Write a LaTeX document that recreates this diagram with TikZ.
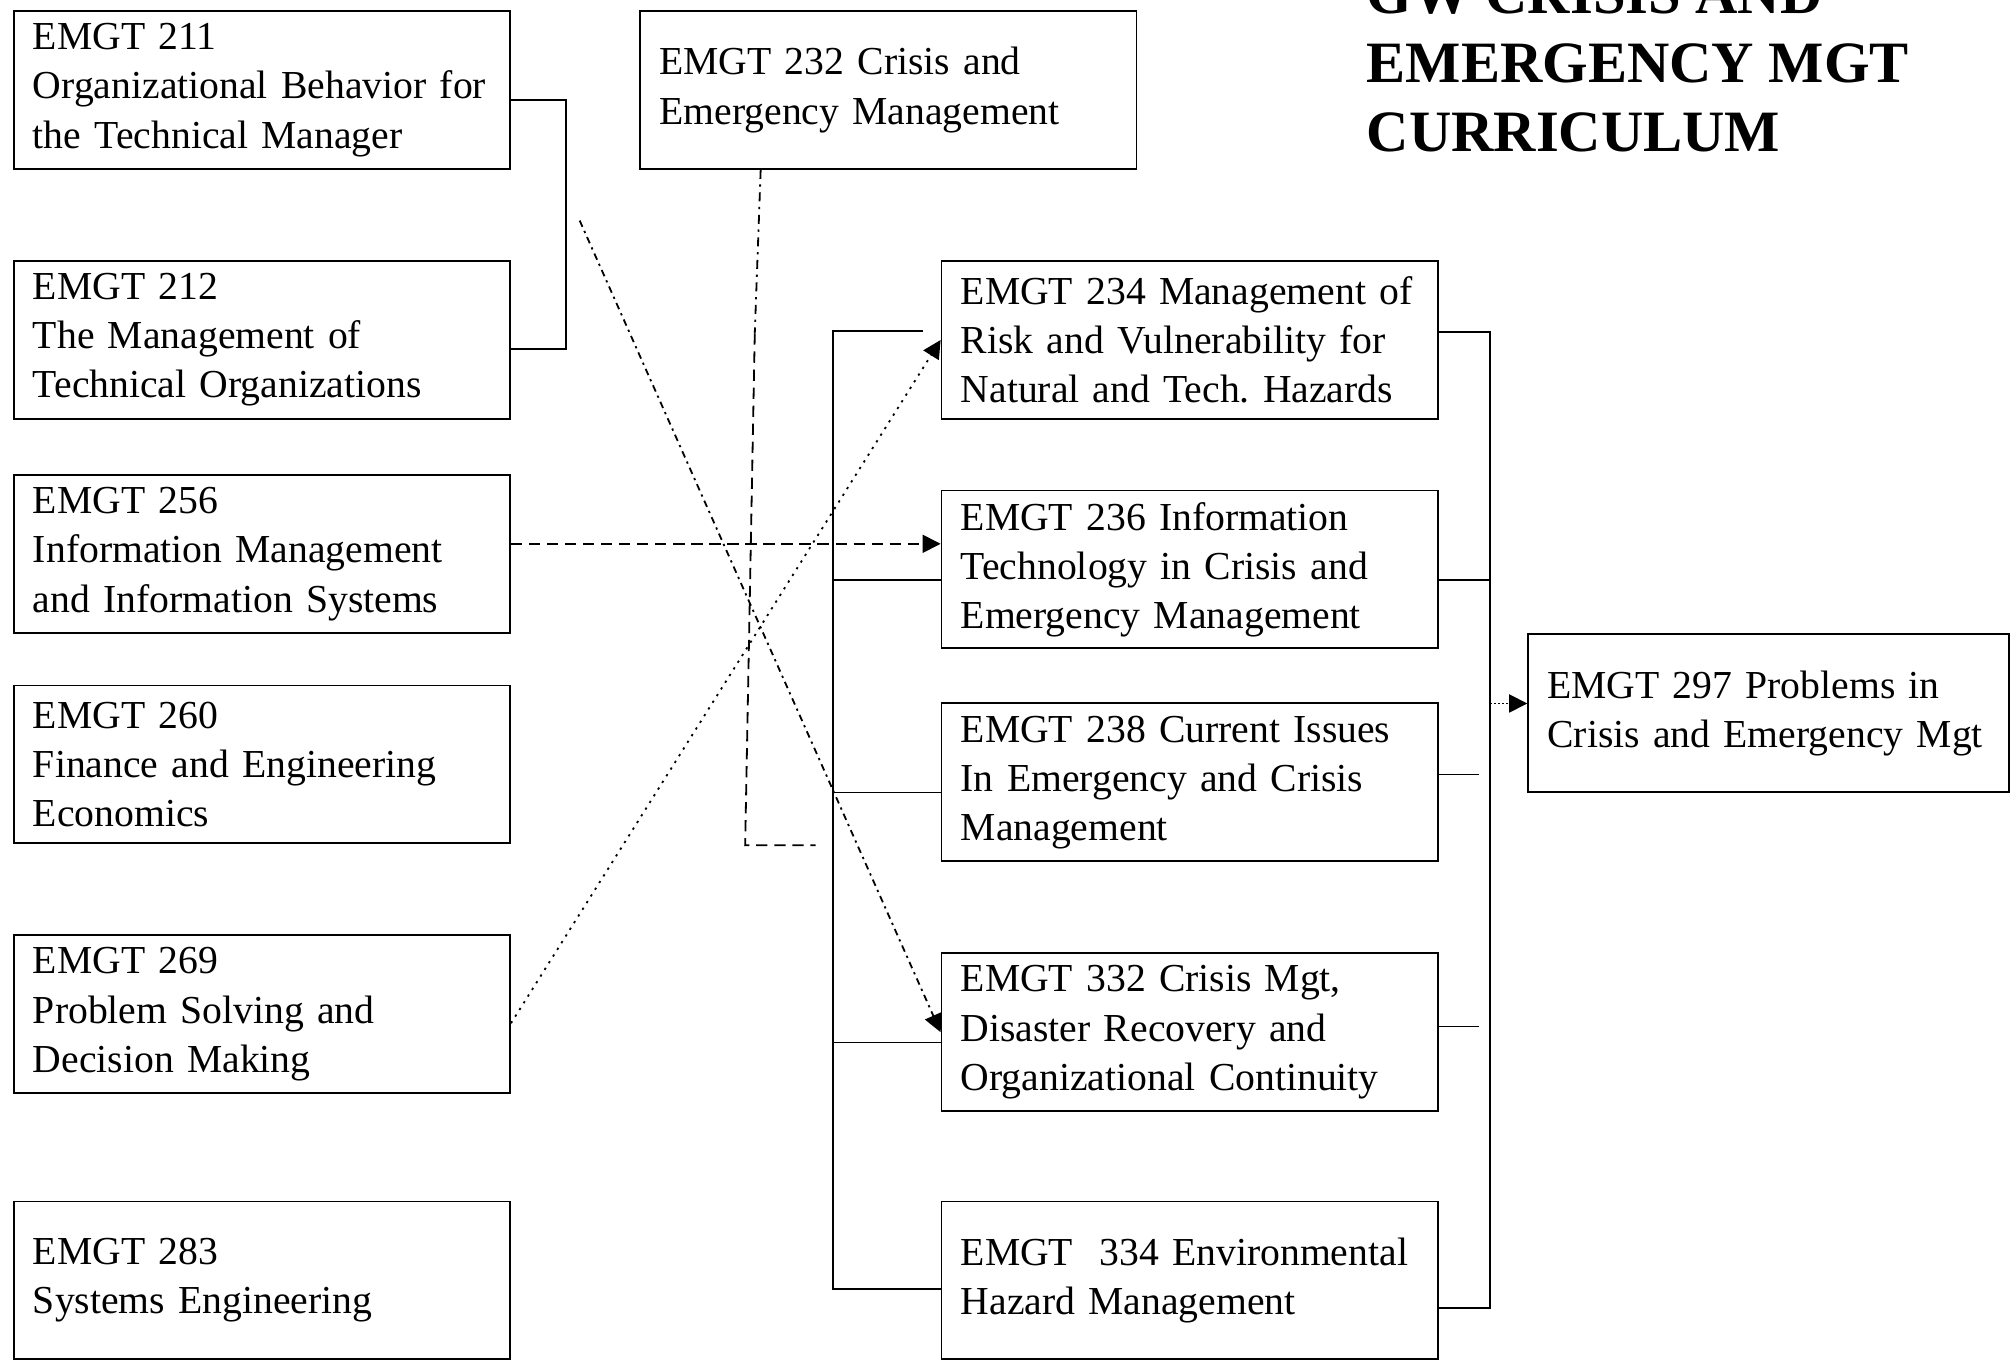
\documentclass[tikz,border=0pt]{standalone}
\usepackage{fontspec}
\setmainfont{Liberation Serif}
\usepackage{tikz}
\usetikzlibrary{arrows.meta, positioning, calc}

\begin{document}
\begin{tikzpicture}[
    line width=0.8pt,
    course/.style={rectangle, draw, text width=7.14cm, inner xsep=0.3cm,
                   minimum height=2.46cm, align=left,
                   font=\fontsize{17.6}{21.8}\selectfont},
    link/.style={-},
    arrow/.style={-{Triangle[length=8pt, width=8pt]}},
    longdash/.style={dash pattern=on 5pt off 3pt},
    dashdot/.style={dash pattern=on 4pt off 2.5pt on 1pt off 2.5pt},
    dashdotdot/.style={dash pattern=on 3pt off 2pt on 1pt off 2pt},
    title/.style={font=\bfseries\fontsize{26}{30.6}\selectfont, align=left, inner sep=0pt}
]
\useasboundingbox (0,0) rectangle (31.36,-21.22);

% left column
\node[course, anchor=north west] (emgt211) at (0.2,-0.16)
    {EMGT 211\\Organizational Behavior for\\the Technical Manager};
\node[course, below=1.41cm of emgt211] (emgt212)
    {EMGT 212\\The Management of\\Technical Organizations};
\node[course, below=0.85cm of emgt212] (emgt256)
    {EMGT 256\\Information Management\\and Information Systems};
\node[course, below=0.79cm of emgt256] (emgt260)
    {EMGT 260\\Finance and Engineering\\Economics};
\node[course, below=1.41cm of emgt260] (emgt269)
    {EMGT 269\\Problem Solving and\\Decision Making};
\node[course, below=1.66cm of emgt269] (emgt283)
    {EMGT 283\\Systems Engineering};

% middle and right columns
\node[course, right=2.0cm of emgt211] (emgt232)
    {EMGT 232 Crisis and\\Emergency Management};
\node[course, right=6.7cm of emgt212] (emgt234)
    {EMGT 234 Management of\\Risk and Vulnerability for\\Natural and Tech.\ Hazards};
\node[course, below=1.09cm of emgt234] (emgt236)
    {EMGT 236 Information\\Technology in Crisis and\\Emergency Management};
\node[course, below=0.83cm of emgt236] (emgt238)
    {EMGT 238 Current Issues\\In Emergency and Crisis\\Management};
\node[course, below=1.41cm of emgt238] (emgt332)
    {EMGT 332 Crisis Mgt,\\Disaster Recovery and\\Organizational Continuity};
\node[course, below=1.38cm of emgt332] (emgt334)
    {EMGT\ \ 334 Environmental\\Hazard Management};
\node[course, text width=6.9cm, right=1.38cm of emgt236, yshift=-2.24cm] (emgt297)
    {EMGT 297 Problems in\\Crisis and Emergency Mgt};

\node[title, anchor=south west] (heading) at (21.3,-2.38)
    {GW CRISIS AND\\EMERGENCY MGT\\CURRICULUM};

% free ends
\coordinate (cross) at (9.04,-3.44);
\coordinate (dropmid) at (11.77,-5.2);
\coordinate (drop) at (11.62,-13.18);
\coordinate (dropend) at (12.72,-13.18);
\coordinate (rtrunk) at ([xshift=0.8cm]emgt234.east);

\draw[link] ([yshift=-0.16cm]emgt211.east) -- ++(0.86,0) |- ([yshift=-0.14cm]emgt212.east);

\draw[dashdot] ([xshift=-1.99cm]emgt232.south) -- (dropmid);
\draw[longdash] (dropmid) -- (drop) -- (dropend);

\draw[arrow, longdash] ([yshift=0.16cm]emgt256.east) -- ([yshift=0.16cm]emgt256.east -| emgt236.west);
\draw[arrow, dashdotdot] (cross) -- (emgt332.west);
\draw[arrow, dash pattern=on 1pt off 2.5pt] ([yshift=-0.14cm]emgt269.east) -- (emgt234.west);

% left bracket
\draw[link] ([xshift=-0.28cm, yshift=0.14cm]emgt234.west) -- ++(-1.4,0)
    |- ([yshift=-0.13cm]emgt334.west);
\foreach \n in {236,238,332}
    \draw[link] ([yshift=-0.16cm]emgt\n.west) -- ++(-1.68,0);

% right bracket
\draw[link] ([yshift=0.12cm]emgt234.east) -| ([xshift=0.8cm, yshift=-0.43cm]emgt334.east)
    -- ([yshift=-0.43cm]emgt334.east);
\draw[link] ([yshift=-0.16cm]emgt236.east) -- ++(0.8,0);
\draw[link] ([yshift=0.12cm]emgt238.east) -- ++(0.62,0);
\draw[link] ([yshift=0.09cm]emgt332.east) -- ++(0.62,0);
\draw[arrow, densely dotted] ([yshift=0.15cm]emgt297.west -| rtrunk) -- ([yshift=0.15cm]emgt297.west);

\end{tikzpicture}
\end{document}
